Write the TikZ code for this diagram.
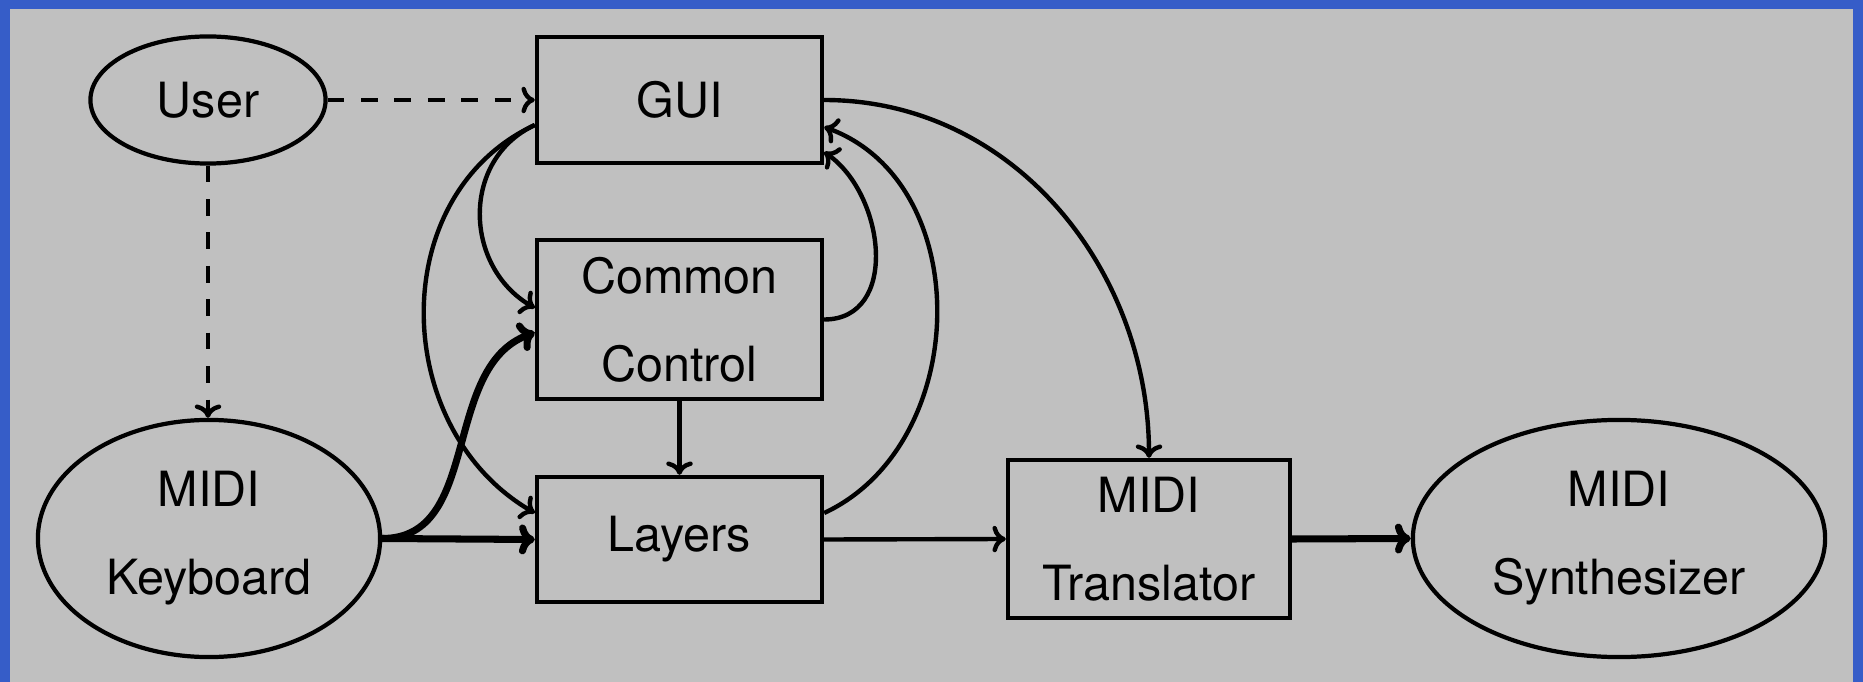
\documentclass[tikz,border=0pt]{standalone}
\usepackage{fontspec}
\setmainfont{TeX Gyre Heros}
\usetikzlibrary{shapes.geometric,arrows.meta,calc}
\definecolor{bgblue}{RGB}{54,93,200}
\definecolor{bggray}{RGB}{192,192,192}
\begin{document}
\begin{tikzpicture}[x=0.01cm,y=0.01cm,
  every node/.style={font=\fontsize{13.8}{25}\selectfont, align=center, inner sep=0pt, line width=1.2pt},
  box/.style={draw, rectangle, minimum width=2.85cm},
  oval/.style={draw, ellipse},
  conn/.style={line width=1.25pt, -{To[width=7.5pt,length=3.8pt]}},
  thickconn/.style={line width=2pt, -{To[width=8.5pt,length=4.5pt]}},
  dashconn/.style={conn, dash pattern=on 4.75pt off 4.75pt}]
\fill[bgblue] (0,0) rectangle (1863,-682);
\fill[bggray] (10,-9) rectangle (1853,-682);
\useasboundingbox (0,0) rectangle (1863,-682);
\node[oval, minimum width=2.35cm, minimum height=1.27cm] (user) at (208,-100) {User};
\node[box, minimum height=1.26cm] (gui) at (679.5,-100) {GUI};
\node[box, minimum height=1.59cm] (cc) at (679.5,-319.5) {Common\\Control};
\node[box, minimum height=1.25cm] (layers) at (679.5,-539.5) {Layers};
\node[oval, minimum width=3.42cm, minimum height=2.37cm] (kbd) at (209,-538.5) {MIDI\\Keyboard};
\node[box, minimum width=2.82cm, minimum height=1.58cm] (trans) at (1149,-539) {MIDI\\Translator};
\node[oval, minimum width=4.12cm, minimum height=2.37cm] (synth) at (1619,-538.5) {MIDI\\Synthesizer};
% connectors
\draw[dashconn] (user.east) -- (gui.west);
\draw[dashconn] (user.south) -- (user.south |- kbd.north);
\draw[conn] (gui.east) to[out=0,in=90] (trans.north);
\draw[conn] (cc.south) -- (layers.north);
\draw[thickconn] (kbd.east) -- (layers.west);
\draw[thickconn] (kbd.east) to[out=0,in=200] ($(cc.west)+(0,-13)$);
\draw[conn] ($(gui.west)+(0,-25)$) to[out=205,in=150,looseness=1.15] ($(cc.west)+(0,11.5)$);
\draw[conn] ($(gui.west)+(0,-25)$) to[out=205,in=150,looseness=1.1] ($(layers.west)+(0,26.5)$);
\draw[conn] (cc.east) to[out=0,in=-35,looseness=1.15] ($(gui.east)+(0,-52)$);
\draw[conn] ($(layers.east)+(0,26.5)$) to[out=25,in=-20,looseness=1.08] ($(gui.east)+(0,-27)$);
\draw[conn] (layers.east) -- (trans.west);
\draw[thickconn] (trans.east) -- (synth.west);
\end{tikzpicture}
\end{document}
